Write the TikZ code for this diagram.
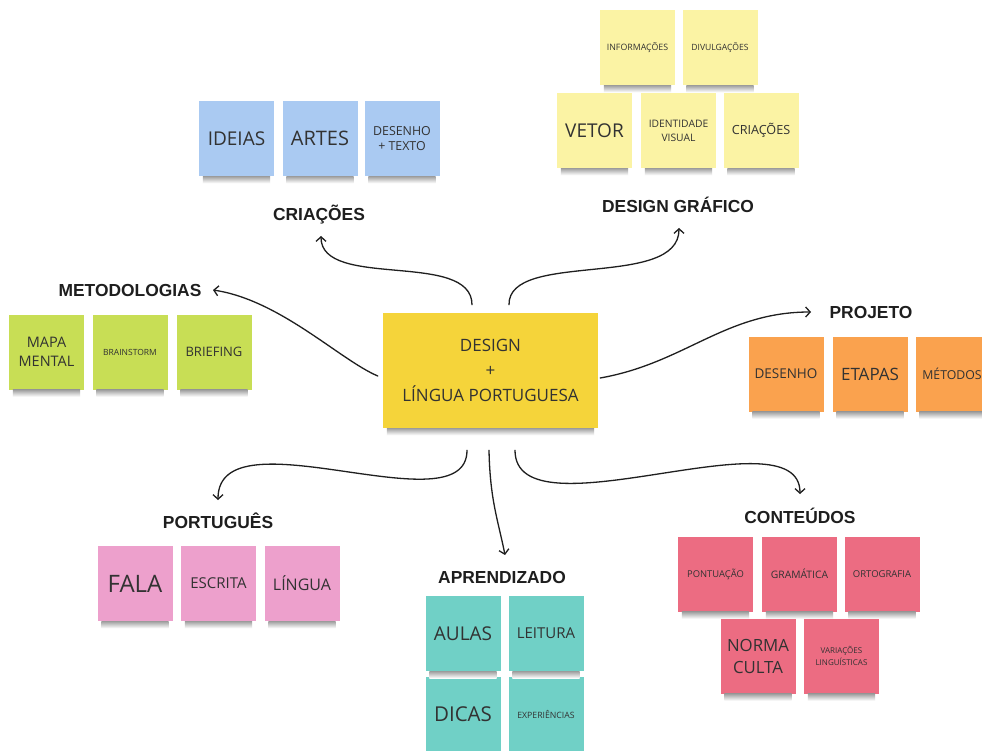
\documentclass[tikz,border=0pt]{standalone}
\usepackage{fontspec}
\newfontfamily\notefont{Open Sans}
\newfontfamily\labfont{Liberation Sans}
\usetikzlibrary{arrows.meta}
\definecolor{cblue}{RGB}{170,202,242}
\definecolor{cpale}{RGB}{251,243,164}
\definecolor{clime}{RGB}{200,222,85}
\definecolor{corange}{RGB}{250,162,78}
\definecolor{ccenter}{RGB}{245,212,58}
\definecolor{cpink}{RGB}{237,160,204}
\definecolor{cteal}{RGB}{112,208,198}
\definecolor{cred}{RGB}{236,108,130}
\definecolor{notetext}{RGB}{50,50,50}
\definecolor{labtext}{RGB}{30,30,30}
\begin{document}
\begin{tikzpicture}[x=1pt,y=-1pt,
  note/.style={minimum width=75pt, minimum height=75pt, inner sep=2pt, align=center,
    text=notetext},
  fs/.style 2 args={font=\notefont\fontsize{#1}{#2}\selectfont},
  lab/.style={anchor=base, inner sep=0pt, text=labtext, font=\labfont\bfseries\fontsize{17.4}{20}\selectfont},
  noteshadow/.style={top color=black!38, bottom color=white, draw=none},
  arr/.style={draw=black!88, line width=1.3pt, line cap=round, -{Straight Barb[length=4.5pt,width=10pt]}}]
\useasboundingbox (0,0) rectangle (982,751);
\clip (0,0) rectangle (982,751);
\fill[white] (0,0) rectangle (982,751);

% central
\node[note, fill=ccenter, minimum width=215pt, minimum height=115pt, fs={17}{25}] (c) at (490.5,370.5) {DESIGN\\+\\LÍNGUA PORTUGUESA};

% CRIAÇÕES
\node[note, fill=cblue, fs={19}{22}] (ideias) at (236.5,138.5) {IDEIAS};
\node[note, fill=cblue, fs={20}{22}] (artes) at (320,138.5) {ARTES};
\node[note, fill=cblue, fs={12.4}{15}] (desenhotexto) at (402,138.5) {DESENHO\\+ TEXTO};
\node[lab] (lcri) at (319,221) {CRIAÇÕES};

% DESIGN GRAFICO
\node[note, fill=cpale, fs={8.8}{11}] (info) at (637.5,47.5) {INFORMAÇÕES};
\node[note, fill=cpale, fs={8.6}{11}] (divul) at (720,47.5) {DIVULGAÇÕES};
\node[note, fill=cpale, fs={19}{22}] (vetor) at (594.5,130.5) {VETOR};
\node[note, fill=cpale, fs={10.3}{14}] (ident) at (678.5,130.5) {IDENTIDADE\\VISUAL};
\node[note, fill=cpale, fs={12.6}{15}] (criacoes2) at (761,130.5) {CRIAÇÕES};
\node[lab] (ldg) at (678,213) {DESIGN GRÁFICO};

% METODOLOGIAS
\node[note, fill=clime, fs={14.5}{19}] (mapa) at (46.5,352) {MAPA\\MENTAL};
\node[note, fill=clime, fs={8.5}{11}] (brain) at (130,352) {BRAINSTORM};
\node[note, fill=clime, fs={13}{16}] (brief) at (214,352) {BRIEFING};
\node[lab] (lmet) at (130,297) {METODOLOGIAS};

% PROJETO
\node[note, fill=corange, fs={13.5}{16}] (desenho) at (786,374) {DESENHO};
\node[note, fill=corange, fs={17}{20}] (etapas) at (870,374) {ETAPAS};
\node[note, fill=corange, fs={12.3}{16}] (metodos) at (953,374) {\hspace*{-2pt}MÉTODOS};
\node[lab] (lproj) at (871,318) {PROJETO};

% PORTUGUES
\node[note, fill=cpink, fs={24}{26}] (fala) at (135,583.5) {FALA};
\node[note, fill=cpink, fs={15}{18}] (escrita) at (218.5,583.5) {ESCRITA};
\node[note, fill=cpink, fs={16}{18}] (lingua) at (302,583.5) {LÍNGUA};
\node[lab] (lport) at (218,528) {PORTUGUÊS};

% APRENDIZADO
\node[note, fill=cteal, fs={19}{22}] (aulas) at (463,633.5) {AULAS};
\node[note, fill=cteal, fs={15}{18}] (leitura) at (546,633.5) {LEITURA};
\node[note, fill=cteal, fs={20.5}{22}] (dicas) at (463,714) {DICAS};
\node[note, fill=cteal, fs={8.7}{11}] (exper) at (546,714) {EXPERIÊNCIAS};
\node[lab] (lapr) at (502,583) {APRENDIZADO};

% CONTEUDOS
\node[note, fill=cred, fs={9.4}{12}] (pont) at (715.5,574) {PONTUAÇÃO};
\node[note, fill=cred, fs={10.3}{12}] (gram) at (799.5,574) {GRAMÁTICA};
\node[note, fill=cred, fs={9.5}{12}] (orto) at (882,574) {ORTOGRAFIA};
\node[note, fill=cred, fs={16.8}{22}] (norma) at (758,656) {NORMA\\CULTA};
\node[note, fill=cred, fs={8}{12}] (variac) at (841.5,656) {VARIAÇÕES\\LINGUÍSTICAS};
\node[lab] (lcont) at (800,523) {CONTEÚDOS};

% shadows under the notes
\foreach \n in {c,ideias,artes,desenhotexto,info,divul,vetor,ident,criacoes2,mapa,brain,brief,desenho,etapas,metodos,fala,escrita,lingua,aulas,leitura,dicas,exper,pont,gram,orto,norma,variac}
  \shade[noteshadow] ([xshift=4pt]\n.south west) rectangle ([xshift=-4pt,yshift=-7pt]\n.south east);

% arrow ends
\coordinate (s1) at ([xshift=-18.5pt,yshift=8pt]c.north);
\coordinate (s3) at ([xshift=18.5pt,yshift=8pt]c.north);
\coordinate (s2) at ([xshift=-5pt,yshift=-5.5pt]c.west);
\coordinate (s4) at ([xshift=2pt,yshift=-7.5pt]c.east);
\coordinate (s5) at ([xshift=-23.5pt,yshift=-22pt]c.south);
\coordinate (s6) at ([xshift=-1.5pt,yshift=-22pt]c.south);
\coordinate (s7) at ([xshift=24.5pt,yshift=-22pt]c.south);
\coordinate (t1) at (321,236);
\coordinate (t2) at (213,290);
\coordinate (t3) at (679,228);
\coordinate (t4) at (811,312);
\coordinate (t5) at (218,500);
\coordinate (t6) at (505,555);
\coordinate (t7) at (800,494);

\draw[arr] (s1) .. controls (472,250) and (321,290) .. (t1);
\draw[arr] (s2) .. controls (340,360) and (280,300) .. (t2);
\draw[arr] (s3) .. controls (508,250) and (679,290) .. (t3);
\draw[arr] (s4) .. controls (685,363) and (725,312) .. (t4);
\draw[arr] (s5) .. controls (467,530) and (218,410) .. (t5);
\draw[arr] (s6) .. controls (490,500) and (498,520) .. (t6);
\draw[arr] (s7) .. controls (515,540) and (800,410) .. (t7);
\end{tikzpicture}
\end{document}
